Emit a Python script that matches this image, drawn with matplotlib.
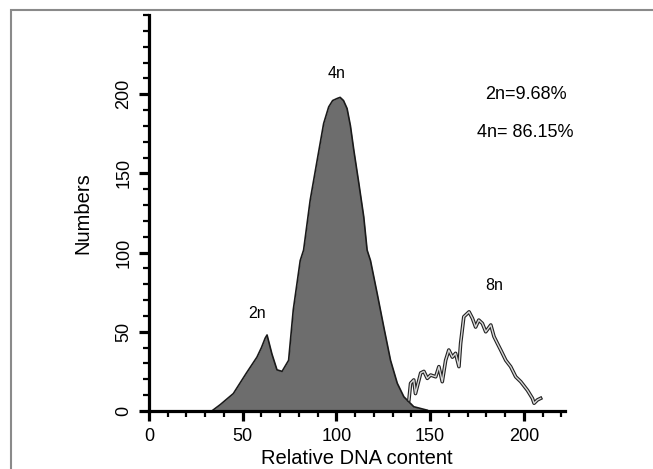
import matplotlib.pyplot as plt
from matplotlib.patches import Rectangle
from matplotlib.ticker import MultipleLocator

# 2n / 4n population (filled histogram outline)
x_fill = [33.5, 38, 45, 52, 57.6, 60, 62, 63, 65.6, 68.3, 71, 74.5, 77, 80.7, 82.5, 86, 89.7,
          93.2, 95.9, 98, 100.4, 102, 103.8, 105.7, 107.5, 109.3, 112, 114.6, 116.4, 118.2,
          121.8, 125.3, 128.9, 132.5, 136, 141.3, 148.5]
y_fill = [0, 4, 11, 24, 34, 40, 46, 48, 36, 26, 25, 32, 64, 95, 101.6, 133, 158,
          181.5, 192, 196, 197.3, 198, 196, 191, 180, 164.7, 143.6, 122.6, 101.6, 95,
          74, 53, 32, 17.5, 9, 2.7, 0.5]

# 8n population (outline only)
x_8n = [138.7, 139.6, 141.3, 142.2, 145, 146.7, 148.5, 150.3, 153, 154.7, 156.5, 158.3,
        160, 161.9, 163.6, 165.4, 166.3, 168, 170.8, 172.6, 174.3, 176, 177.9, 179.7,
        182.4, 184.1, 185.9, 187.7, 190.4, 193, 195.7, 198.4, 202, 204.6, 205.5, 207.3, 209]
y_8n = [7, 17.5, 19.6, 11, 24, 25, 20.6, 22.7, 21.6, 28, 18.5, 32,
        38.5, 34, 36.4, 28, 42.7, 59.5, 62.6, 58.5, 53, 57.4, 55.3, 50,
        54.3, 47, 42.7, 38.5, 32, 28, 21.6, 18.5, 13, 8, 4.9, 7, 8]

peak_labels = ["2n", "4n", "8n"]
peak_x = [57.8, 100, 184]
peak_y = [61.8, 213, 79.5]

stats_text = ["2n=9.68%", "4n= 86.15%"]
stats_y = [200, 176]

plt.rcParams['font.family'] = ['Liberation Sans', 'DejaVu Sans']

fig = plt.figure(figsize=(6.53, 4.69), dpi=100)
ax = fig.add_axes([149/653, 58/469, 416/653, 396/469])

ax.fill_between(x_fill, y_fill, 0, color='#6d6d6d', lw=0)
ax.plot(x_fill, y_fill, color='#1a1a1a', lw=1.2)
ax.plot(x_8n, y_8n, color='#222222', lw=2.6)
ax.plot(x_8n, y_8n, color='#d8d8d8', lw=1.0)

for lab, px, py in zip(peak_labels, peak_x, peak_y):
    ax.text(px, py, lab, ha='center', va='center', fontsize=11.5)
for t, sy in zip(stats_text, stats_y):
    ax.text(201, sy, t, ha='center', va='center', fontsize=13)

ax.set_xlim(0, 222)
ax.set_ylim(0, 250)
ax.spines['top'].set_visible(False)
ax.spines['right'].set_visible(False)
ax.spines['left'].set_linewidth(2.3)
ax.spines['bottom'].set_linewidth(2.3)

ax.set_xticks([0, 50, 100, 150, 200])
ax.set_yticks([0, 50, 100, 150, 200])
ax.xaxis.set_minor_locator(MultipleLocator(10))
ax.yaxis.set_minor_locator(MultipleLocator(10))
ax.tick_params(which='major', length=7, width=2.3, labelsize=13, pad=5)
ax.tick_params(which='minor', length=4, width=1.6)
for lbl in ax.get_yticklabels():
    lbl.set_rotation(90)
    lbl.set_va('center')

ax.set_xlabel("Relative DNA content", fontsize=14.5)
ax.set_ylabel("Numbers", fontsize=14.5)
ax.xaxis.set_label_coords(0.5, -0.097)
ax.yaxis.set_label_coords(-0.137, 0.5)

fig.patches.append(Rectangle((11/653, -0.1), 1.2, 1.1 - 10/469, transform=fig.transFigure,
                             fill=False, edgecolor='#8a8a8a', lw=1.5))

fig.savefig("out.png", dpi=100)
